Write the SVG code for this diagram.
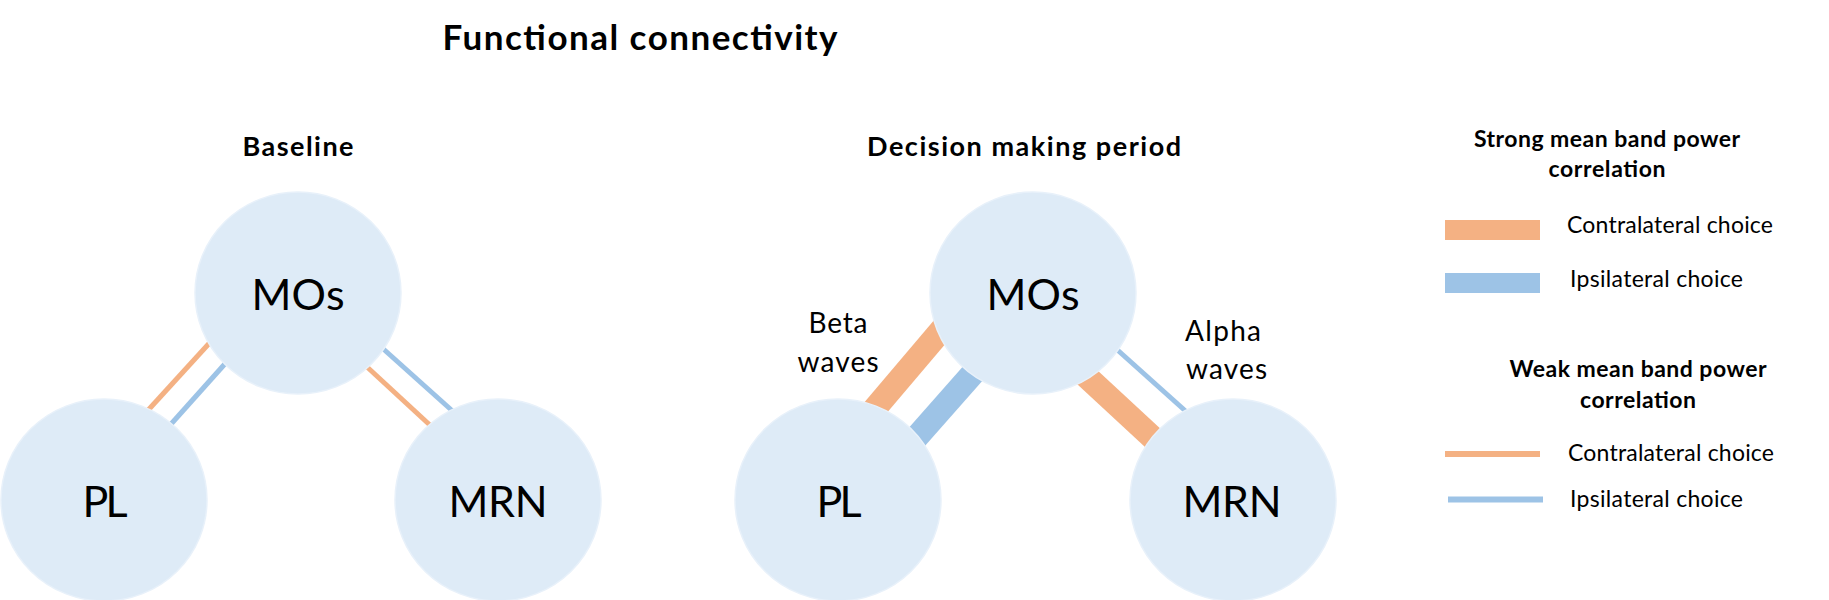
<svg xmlns="http://www.w3.org/2000/svg" width="1829" height="600" viewBox="0 0 1829 600">
  <style>
    text { font-family: Lato, "Liberation Sans", Arial, sans-serif; fill: #000; }
    .title { font-size: 35px; font-weight: bold; text-anchor: middle; }
    .sub { font-size: 27px; font-weight: bold; text-anchor: middle; }
    .node ellipse { fill: #DEEBF7; stroke: #E8F1FA; stroke-width: 1.5; }
    .node text { font-size: 43px; text-anchor: middle; }
    .lbl { font-size: 28px; }
    .lh { font-size: 23px; font-weight: bold; text-anchor: middle; }
    .li { font-size: 23px; }
    .or { stroke: #F4B183; fill: none; stroke-linecap: butt; }
    .bl { stroke: #9DC3E6; fill: none; stroke-linecap: butt; }
    .thin { stroke-width: 5; }
    .thick { stroke-width: 24; }
  </style>

  <text class="title" x="640" y="50" textLength="395">Functional connectivity</text>
  <text class="sub" x="298" y="156" textLength="111">Baseline</text>
  <text class="sub" x="1024" y="156" textLength="314">Decision making period</text>

  <g id="connectors">
    <!-- Baseline -->
    <line class="or thin" x1="130" y1="430" x2="225" y2="326"/>
    <line class="bl thin" x1="155" y1="442" x2="240" y2="347"/>
    <line class="bl thin" x1="370" y1="337" x2="467" y2="424"/>
    <line class="or thin" x1="353" y1="354" x2="445" y2="439"/>
    <!-- Decision making period -->
    <line class="or thick" x1="860" y1="426" x2="955" y2="314"/>
    <line class="bl thick" x1="900" y1="456" x2="990" y2="354"/>
    <line class="bl thin" x1="1103" y1="337" x2="1200" y2="424"/>
    <line class="or thick" x1="1073" y1="364" x2="1168" y2="452"/>
  </g>

  <g id="edge-labels">
    <text class="lbl" x="838" y="333" text-anchor="middle" textLength="59">Beta</text>
    <text class="lbl" x="838" y="372" text-anchor="middle" textLength="81">waves</text>
    <text class="lbl" x="1185" y="341" textLength="76">Alpha</text>
    <text class="lbl" x="1186" y="379" textLength="81">waves</text>
  </g>

  <g id="base-MOs" class="node">
    <ellipse cx="298" cy="293" rx="103" ry="101"/>
    <text x="298" y="310" textLength="93">MOs</text>
  </g>
  <g id="base-PL" class="node">
    <ellipse cx="104" cy="500" rx="103" ry="101"/>
    <text x="105" y="517" textLength="45">PL</text>
  </g>
  <g id="base-MRN" class="node">
    <ellipse cx="498" cy="500" rx="103" ry="101"/>
    <text x="498" y="517" textLength="99">MRN</text>
  </g>

  <g id="dec-MOs" class="node">
    <ellipse cx="1033" cy="293" rx="103" ry="101"/>
    <text x="1033" y="310" textLength="93">MOs</text>
  </g>
  <g id="dec-PL" class="node">
    <ellipse cx="838" cy="500" rx="103" ry="101"/>
    <text x="839" y="517" textLength="45">PL</text>
  </g>
  <g id="dec-MRN" class="node">
    <ellipse cx="1233" cy="500" rx="103" ry="101"/>
    <text x="1232" y="517" textLength="99">MRN</text>
  </g>

  <g id="legend">
    <text class="lh" x="1607" y="147" textLength="266">Strong mean band power</text>
    <text class="lh" x="1607" y="177" textLength="117">correlation</text>
    <rect x="1445" y="220" width="95" height="20" fill="#F4B183"/>
    <text class="li" x="1567" y="233" textLength="206">Contralateral choice</text>
    <rect x="1445" y="273" width="95" height="20" fill="#9DC3E6"/>
    <text class="li" x="1570" y="287" textLength="173">Ipsilateral choice</text>

    <text class="lh" x="1638" y="377" textLength="257">Weak mean band power</text>
    <text class="lh" x="1638" y="408" textLength="116">correlation</text>
    <line class="or" stroke-width="6" x1="1445" y1="454" x2="1540" y2="454"/>
    <text class="li" x="1568" y="461" textLength="206">Contralateral choice</text>
    <line class="bl" stroke-width="6" x1="1448" y1="499.5" x2="1543" y2="499.5"/>
    <text class="li" x="1570" y="507" textLength="173">Ipsilateral choice</text>
  </g>
</svg>
